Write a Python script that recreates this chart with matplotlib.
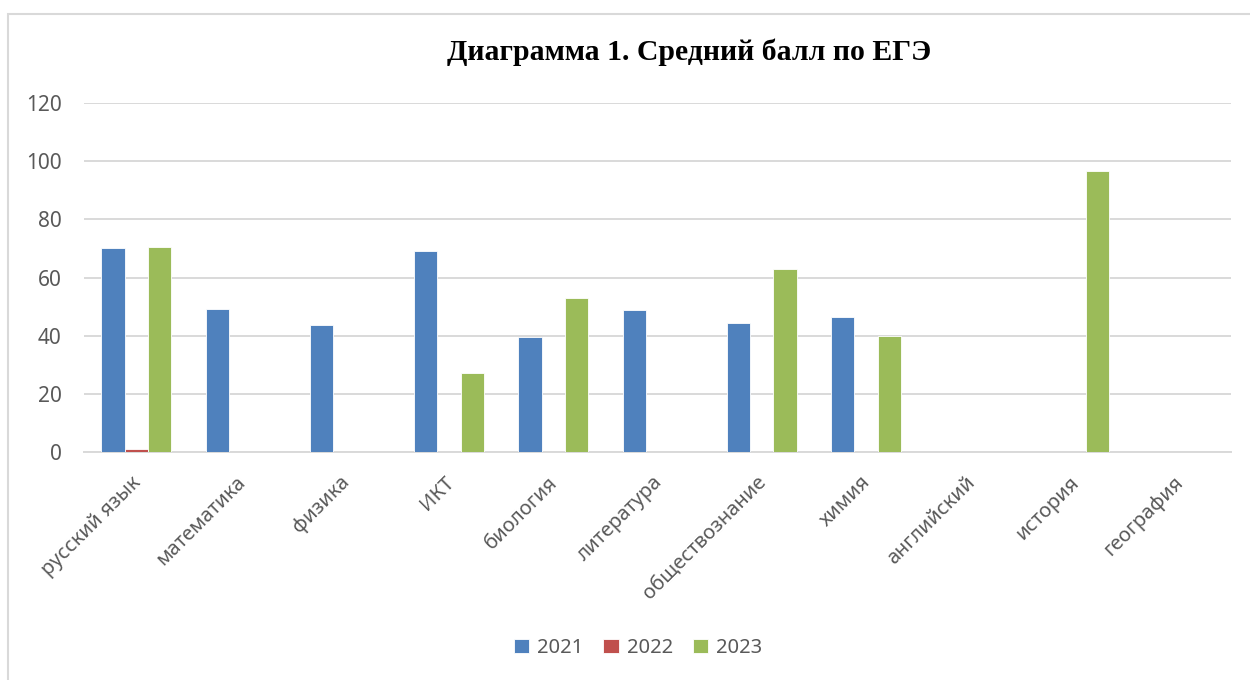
import matplotlib
matplotlib.use("Agg")
import matplotlib.pyplot as plt
import numpy as np
from matplotlib.patches import Rectangle
import matplotlib.transforms as mtransforms

categories = ["русский язык", "математика", "физика", "ИКТ", "биология",
              "литература", "обществознание", "химия", "английский",
              "история", "география"]
years = ["2021", "2022", "2023"]
vals_2021 = [70.0, 49.0, 43.5, 69.0, 39.5, 48.9, 44.2, 46.5, 0, 0, 0]
vals_2022 = [1.0, 0, 0, 0, 0, 0, 0, 0, 0, 0, 0]
vals_2023 = [70.5, 0, 0, 27.0, 53.0, 0, 63.0, 40.0, 0, 96.6, 0]
colors = ["#4F81BD", "#C0504D", "#9BBB59"]
title = "Диаграмма 1. Средний балл по ЕГЭ"

plt.rcParams['font.family'] = ['Noto Sans', 'DejaVu Sans']

W, H = 1250, 680
fig = plt.figure(figsize=(W / 100, H / 100), dpi=100)
fig.patch.set_facecolor("white")

# chart border
fig.patches.append(Rectangle((8 / W, -0.1), 1.2, 1 - 14 / H + 0.1,
                             transform=fig.transFigure, fill=False,
                             edgecolor="#D9D9D9", linewidth=1.5))

left, right = 84 / W, 1231 / W
bottom, top = 1 - 451.7 / H, 1 - 103.3 / H
ax = fig.add_axes([left, bottom, right - left, top - bottom])

x = np.arange(len(categories))
bw = 1 / 4.5
series = [vals_2021, vals_2022, vals_2023]
for i, (yr, vals, c) in enumerate(zip(years, series, colors)):
    ax.bar(x + (i - 1) * bw, vals, width=bw, color=c, label=yr,
           edgecolor="white", linewidth=0.6, zorder=3)

ax.set_xlim(-0.5, len(categories) - 0.5)
ax.set_ylim(0, 120)
ax.set_yticks(range(0, 121, 20))
ax.yaxis.grid(True, color="#D9D9D9", linewidth=1.4, zorder=0)
ax.set_axisbelow(True)
for s in ["top", "right", "left"]:
    ax.spines[s].set_visible(False)
ax.spines["bottom"].set_color("#D9D9D9")
ax.spines["bottom"].set_linewidth(1.4)
ax.tick_params(axis="both", length=0, colors="#595959", labelsize=15)
ax.tick_params(axis="y", pad=16)

ax.set_xticks(x)
ax.set_xticklabels(categories, rotation=45, ha="right", va="center",
                   rotation_mode="anchor", fontsize=14.5, color="#595959")
offset = mtransforms.ScaledTranslation(2 / 100, -23 / 100, fig.dpi_scale_trans)
for lbl in ax.get_xticklabels():
    lbl.set_transform(lbl.get_transform() + offset)

fig.text(689 / W, 1 - 52 / H, title, ha="center", va="center",
         fontsize=21.4, fontweight="bold", family="Liberation Serif", color="black")

leg = fig.legend(loc="center", bbox_to_anchor=(638 / W, 1 - 648 / H), ncol=3,
                 frameon=False, fontsize=14.5, handlelength=0.75, handleheight=0.75,
                 handletextpad=0.4, columnspacing=1.0)
for t in leg.get_texts():
    t.set_color("#595959")

fig.savefig("out.png", dpi=100, facecolor="white")
